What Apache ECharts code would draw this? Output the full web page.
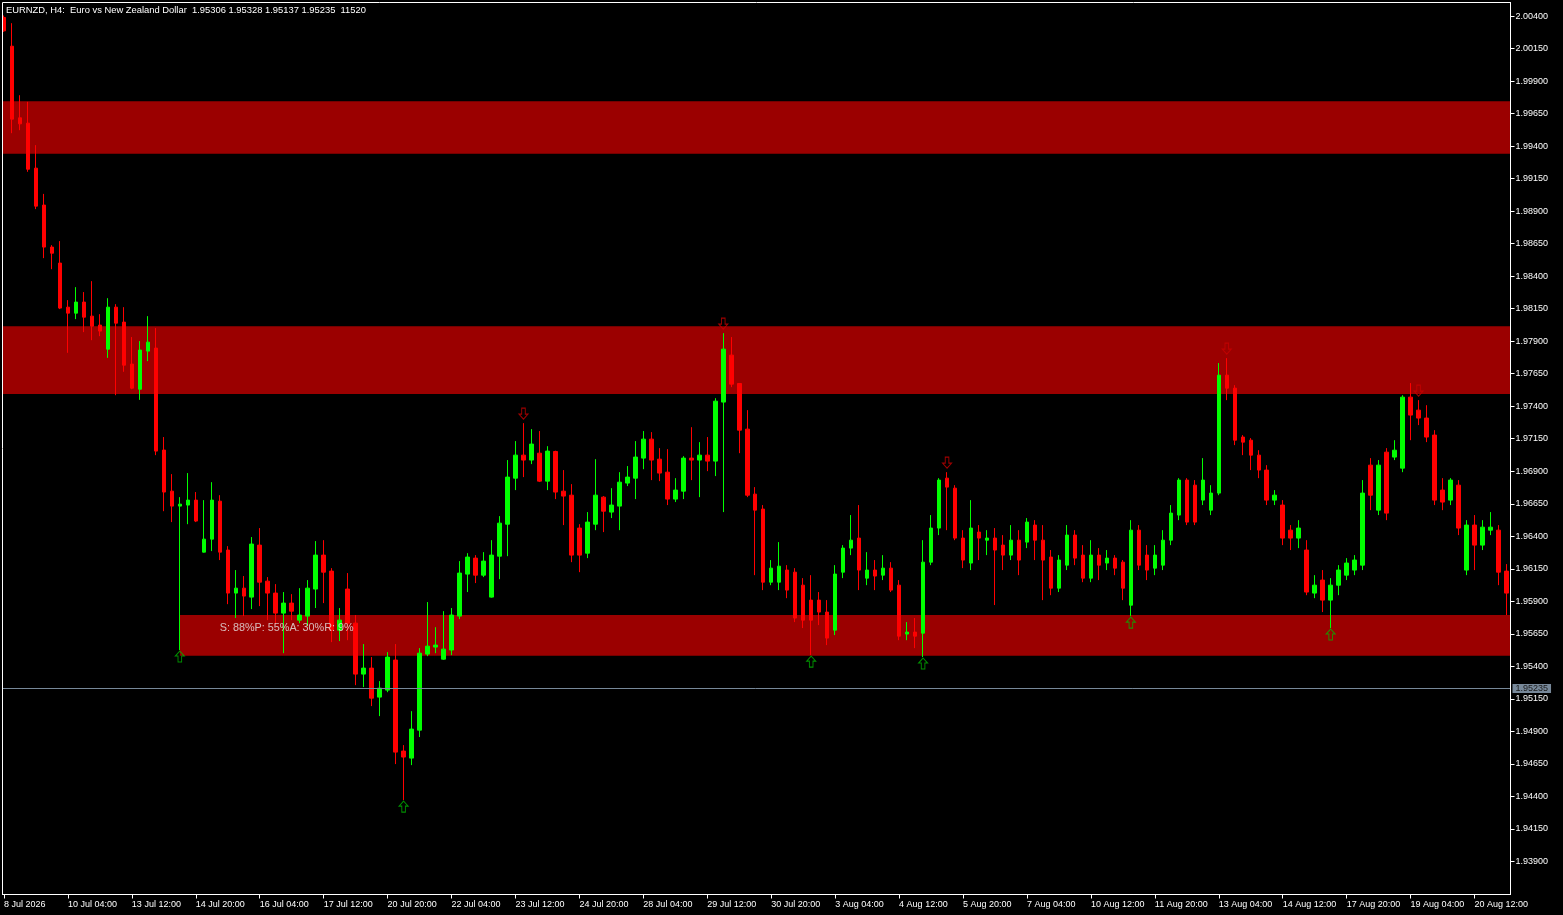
<!DOCTYPE html>
<html>
<head>
<meta charset="utf-8">
<title>EURNZD H4</title>
<script src="https://cdn.jsdelivr.net/npm/echarts@6/dist/echarts.min.js"></script>
<style>
html,body{margin:0;padding:0;background:#000;}
#chart{width:1563px;height:915px;}
</style>
</head>
<body>
<div id="chart"></div>
<script>
// ---------- data ----------
const titleText = 'EURNZD, H4:  Euro vs New Zealand Dollar  1.95306 1.95328 1.95137 1.95235  11520';
const infoText = 'S: 88%P: 55%A: 30%R: 9%';
const lastPrice = 1.95235;

const xTickLabels = ['8 Jul 2026','10 Jul 04:00','13 Jul 12:00','14 Jul 20:00','16 Jul 04:00','17 Jul 12:00',
  '20 Jul 20:00','22 Jul 04:00','23 Jul 12:00','24 Jul 20:00','28 Jul 04:00','29 Jul 12:00','30 Jul 20:00',
  '3 Aug 04:00','4 Aug 12:00','5 Aug 20:00','7 Aug 04:00','10 Aug 12:00','11 Aug 20:00','13 Aug 04:00',
  '14 Aug 12:00','17 Aug 20:00','19 Aug 04:00','20 Aug 12:00'];

const yTickValues = [2.00400,2.00150,1.99900,1.99650,1.99400,1.99150,1.98900,1.98650,1.98400,1.98150,
  1.97900,1.97650,1.97400,1.97150,1.96900,1.96650,1.96400,1.96150,1.95900,1.95650,1.95400,1.95150,
  1.94900,1.94650,1.94400,1.94150,1.93900];

const opens = [
2.00390,2.00169,1.99618,1.99577,1.99231,1.98947,1.98624,1.98501,1.98162,1.98116,
1.98201,1.98093,1.98024,1.97839,1.98162,1.98047,1.97724,1.97531,1.97824,1.97847,
1.97063,1.96747,1.96632,1.96640,1.96678,1.96278,1.96378,1.96670,1.96294,1.95963,
1.96001,1.95932,1.96332,1.96055,1.95963,1.95809,1.95886,1.95755,1.95786,1.95994,
1.96255,1.96132,1.95678,1.95994,1.95732,1.95340,1.95386,1.95163,1.95217,1.95448,
1.94748,1.94694,1.94909,1.95494,1.95548,1.95455,1.95525,1.95786,1.96109,1.96232,
1.96101,1.95932,1.96247,1.96493,1.96847,1.97024,1.96986,1.97039,1.96824,1.97052,
1.96747,1.96716,1.96463,1.96270,1.96493,1.96701,1.96586,1.96632,1.96809,1.96847,
1.97001,1.97147,1.96993,1.96893,1.96686,1.96747,1.97001,1.96986,1.97024,1.96978,
1.97432,1.97793,1.97575,1.97224,1.96724,1.96609,1.96047,1.96047,1.96140,1.96124,
1.96024,1.95909,1.95909,1.95817,1.95678,1.96124,1.96309,1.96386,1.96078,1.96140,
1.96101,1.96155,1.96024,1.95648,1.95663,1.95655,1.96201,1.96463,1.96847,1.96770,
1.96386,1.96194,1.96432,1.96370,1.96386,1.96332,1.96255,1.96370,1.96355,1.96486,
1.96370,1.96240,1.96001,1.96178,1.96409,1.96255,1.96078,1.96255,1.96194,1.96232,
1.96201,1.95870,1.96447,1.96255,1.96155,1.96178,1.96370,1.96563,1.96832,1.96793,
1.96678,1.96601,1.96732,1.97639,1.97539,1.97163,1.97139,1.97024,1.96909,1.96678,
1.96640,1.96447,1.96386,1.96294,1.95963,1.96063,1.95909,1.96024,1.96101,1.96140,
1.96178,1.96947,1.96601,1.97047,1.97009,1.96924,1.97470,1.97370,1.97309,1.97178,
1.96755,1.96678,1.96793,1.96140,1.96486,1.96332,1.96447,1.96447,1.96132];

const highs = [
2.00405,2.00346,1.99792,1.99741,1.99408,1.99033,1.98639,1.98670,1.98216,1.98316,
1.98278,1.98362,1.98108,1.98231,1.98185,1.98162,1.97932,1.97901,1.98093,1.98001,
1.97163,1.96878,1.96701,1.96886,1.96740,1.96678,1.96816,1.96716,1.96324,1.96140,
1.96094,1.96394,1.96463,1.96086,1.96032,1.95971,1.95955,1.96001,1.96063,1.96363,
1.96370,1.96155,1.95848,1.96117,1.95794,1.95571,1.95471,1.95286,1.95509,1.95571,
1.94794,1.95055,1.95540,1.95894,1.95701,1.95824,1.95848,1.96209,1.96270,1.96255,
1.96278,1.96370,1.96555,1.96986,1.97132,1.97270,1.97224,1.97209,1.97093,1.97058,
1.96909,1.96801,1.96493,1.96586,1.96993,1.96709,1.96770,1.96893,1.96940,1.97132,
1.97209,1.97201,1.97078,1.97070,1.96847,1.97016,1.97239,1.97124,1.97163,1.97462,
1.97962,1.97932,1.97578,1.97370,1.96778,1.96640,1.96217,1.96355,1.96178,1.96155,
1.96078,1.96101,1.95971,1.95909,1.96178,1.96332,1.96563,1.96640,1.96278,1.96217,
1.96255,1.96201,1.96063,1.95740,1.95771,1.96370,1.96563,1.96847,1.96893,1.96793,
1.96447,1.96678,1.96486,1.96447,1.96463,1.96409,1.96486,1.96447,1.96540,1.96524,
1.96486,1.96294,1.96255,1.96486,1.96447,1.96332,1.96370,1.96309,1.96294,1.96255,
1.96217,1.96524,1.96486,1.96332,1.96332,1.96447,1.96640,1.96847,1.96847,1.96832,
1.97001,1.96793,1.97732,1.97770,1.97562,1.97178,1.97155,1.97062,1.96947,1.96755,
1.96678,1.96486,1.96524,1.96370,1.96101,1.96140,1.96078,1.96178,1.96232,1.96255,
1.96832,1.97001,1.96986,1.97078,1.97139,1.97485,1.97578,1.97447,1.97408,1.97216,
1.96847,1.96847,1.96832,1.96524,1.96563,1.96524,1.96586,1.96486,1.96186];

const lows = [
2.00280,1.99500,1.99523,1.99203,1.98916,1.98539,1.98454,1.98147,1.97811,1.98070,
1.97970,1.97908,1.97939,1.97772,1.97485,1.97665,1.97531,1.97449,1.97747,1.97024,
1.96593,1.96509,1.95525,1.96493,1.96509,1.96275,1.96286,1.96217,1.95878,1.95771,
1.95786,1.95840,1.95863,1.95755,1.95724,1.95501,1.95755,1.95732,1.95709,1.95848,
1.95886,1.95586,1.95594,1.95601,1.95255,1.95240,1.95094,1.95017,1.95201,1.94648,
1.94371,1.94640,1.94856,1.95478,1.95501,1.95450,1.95486,1.95763,1.95971,1.96040,
1.96086,1.95928,1.96070,1.96247,1.96755,1.96855,1.96955,1.96817,1.96755,1.96686,
1.96486,1.96201,1.96124,1.96232,1.96447,1.96432,1.96540,1.96447,1.96786,1.96686,
1.96916,1.96832,1.96824,1.96640,1.96663,1.96686,1.96832,1.96701,1.96901,1.96863,
1.96586,1.97547,1.97039,1.96701,1.96101,1.95986,1.96024,1.95986,1.95924,1.95740,
1.95694,1.95486,1.95717,1.95563,1.95640,1.96078,1.96255,1.95986,1.96024,1.95986,
1.96063,1.95971,1.95601,1.95601,1.95540,1.95471,1.96178,1.96409,1.96447,1.96370,
1.96155,1.96140,1.96217,1.96255,1.95871,1.96140,1.96217,1.96101,1.96309,1.96217,
1.95909,1.95947,1.95971,1.96140,1.96178,1.96047,1.96047,1.96063,1.96140,1.96101,
1.95909,1.95786,1.96140,1.96063,1.96101,1.96140,1.96332,1.96524,1.96486,1.96486,
1.96640,1.96563,1.96716,1.97447,1.97101,1.97024,1.96909,1.96847,1.96640,1.96640,
1.96332,1.96294,1.96309,1.95947,1.95924,1.95817,1.95694,1.95947,1.96063,1.96101,
1.96140,1.96601,1.96563,1.96524,1.96986,1.96893,1.97139,1.97255,1.97124,1.96640,
1.96601,1.96640,1.96409,1.96101,1.96140,1.96294,1.96409,1.96024,1.95794];

const closes = [
2.00287,1.99608,1.99572,1.99223,1.98939,1.98624,1.98577,1.98155,1.98116,1.98201,
1.98085,1.98016,1.97978,1.98162,1.98039,1.97716,1.97539,1.97832,1.97893,1.97055,
1.96740,1.96632,1.96647,1.96678,1.96517,1.96378,1.96678,1.96278,1.95963,1.96001,
1.95940,1.96340,1.96047,1.95963,1.95809,1.95886,1.95824,1.95794,1.96001,1.96255,
1.96124,1.95678,1.95755,1.95732,1.95340,1.95386,1.95155,1.95232,1.95471,1.94740,
1.94702,1.94917,1.95501,1.95555,1.95563,1.95532,1.95794,1.96117,1.96240,1.96101,
1.96209,1.96255,1.96501,1.96855,1.97024,1.96986,1.97109,1.96824,1.97055,1.96740,
1.96709,1.96255,1.96255,1.96509,1.96716,1.96593,1.96640,1.96816,1.96855,1.97009,
1.97147,1.96986,1.96886,1.96686,1.96755,1.97001,1.96986,1.97024,1.96978,1.97439,
1.97839,1.97570,1.97216,1.96716,1.96601,1.96047,1.96155,1.96170,1.95986,1.95771,
1.95755,1.95755,1.95817,1.95617,1.96109,1.96309,1.96370,1.96140,1.96140,1.96094,
1.96155,1.95986,1.95632,1.95663,1.95632,1.96201,1.96463,1.96832,1.96778,1.96386,
1.96217,1.96463,1.96386,1.96386,1.96294,1.96255,1.96370,1.96217,1.96509,1.96370,
1.96217,1.96001,1.96217,1.96409,1.96232,1.96078,1.96255,1.96178,1.96232,1.96155,
1.96001,1.96447,1.96178,1.96140,1.96255,1.96370,1.96578,1.96832,1.96509,1.96509,
1.96832,1.96732,1.97639,1.97539,1.97139,1.97124,1.97024,1.96909,1.96678,1.96716,
1.96386,1.96386,1.96463,1.95971,1.96024,1.95909,1.96024,1.96140,1.96194,1.96217,
1.96732,1.96716,1.96947,1.96578,1.97062,1.97470,1.97332,1.97309,1.97163,1.96678,
1.96663,1.96832,1.96463,1.96486,1.96332,1.96470,1.96470,1.96124,1.95963];

// supply / demand zones: start bar index (0 = from left edge), top, bottom
const zoneStart  = [0, 0, 22];
const zoneTop    = [1.99746, 1.98016, 1.95794];
const zoneBottom = [1.99341, 1.97495, 1.95481];

// fractal arrows (bar indices)
const upFractals   = [22, 50, 101, 115, 141, 166];
const downFractals = [65, 90, 118, 153, 177];

// info label anchor (bar index, price)
const infoAnchor = [27, 1.95694];

// bar times: H4 bars from 8 Jul 2026 20:00, skipping weekends
const categories = [];
(function(){
  let t = Date.UTC(2026, 6, 8, 20);
  while (categories.length < opens.length) {
    const d = new Date(t);
    const wd = d.getUTCDay();
    if (wd !== 0 && wd !== 6) {
      const p = n => String(n).padStart(2, '0');
      categories.push(d.getUTCFullYear() + '.' + p(d.getUTCMonth()+1) + '.' + p(d.getUTCDate()) + ' ' + p(d.getUTCHours()) + ':00');
    }
    t += 4 * 3600 * 1000;
  }
})();

// ---------- chart ----------
const FONT = '"Liberation Sans", Arial, sans-serif';
const chart = echarts.init(document.getElementById('chart'), null, {renderer: 'canvas'});

const candleData = opens.map((o, i) => [o, closes[i], lows[i], highs[i]]);
const zoneData = zoneStart.map((s, i) => [s, zoneTop[i], zoneBottom[i]]);

const option = {
  backgroundColor: '#000000',
  animation: false,
  title: {
    text: titleText, left: 6, top: 5.5, padding: 0,
    textStyle: {color: '#ffffff', fontSize: 9.4, fontWeight: 'normal', fontFamily: FONT}
  },
  grid: {left: -1.5, top: 2.5, width: 1512, height: 892, containLabel: false},
  xAxis: {
    type: 'category', data: categories, boundaryGap: true,
    axisLine: {show: true, lineStyle: {color: '#ffffff', width: 1}},
    axisTick: {show: true, alignWithLabel: true, interval: 7, length: 4, lineStyle: {color: '#ffffff'}},
    axisLabel: {
      show: true, interval: 7, align: 'left', margin: 6, color: '#ffffff', fontSize: 9, fontFamily: FONT,
      formatter: function (v, idx) { return idx % 8 === 0 ? (xTickLabels[idx / 8] || '') : ''; }
    },
    splitLine: {show: false}
  },
  yAxis: {
    type: 'value', position: 'right', min: 1.93645, max: 2.00505, scale: true,
    axisLine: {show: true, lineStyle: {color: '#ffffff', width: 1}},
    axisTick: {show: true, length: 4, customValues: yTickValues, lineStyle: {color: '#ffffff'}},
    axisLabel: {
      show: true, customValues: yTickValues, margin: 5, color: '#ffffff', fontSize: 9, fontFamily: FONT,
      formatter: v => v.toFixed(5)
    },
    splitLine: {show: false}
  },
  series: [
    {
      type: 'custom', name: 'zones', z: 1, silent: true, clip: true,
      data: zoneData,
      renderItem: function (params, api) {
        const cs = params.coordSys;
        const s = api.value(0);
        const x0 = s === 0 ? cs.x : api.coord([s, api.value(1)])[0];
        const y0 = api.coord([s, api.value(1)])[1];
        const y1 = api.coord([s, api.value(2)])[1];
        return {
          type: 'rect',
          shape: {x: x0, y: y0, width: cs.x + cs.width - x0, height: y1 - y0},
          style: {fill: '#9b0000'}
        };
      }
    },
    {
      type: 'candlestick', name: 'EURNZD', z: 2, barWidth: 4,
      data: candleData,
      itemStyle: {color: '#00ff00', color0: '#ff0000', borderColor: '#00ff00', borderColor0: '#ff0000', borderWidth: 1}
    },
    {
      type: 'scatter', name: 'upFractals', z: 3, silent: true,
      data: upFractals.map(i => [i, lows[i]]),
      symbol: 'path://M5,0 L10,5 L7,5 L7,11 L3,11 L3,5 L0,5 Z',
      symbolSize: [9, 11], symbolOffset: [0, 6.5],
      itemStyle: {color: 'rgba(0,0,0,0)', borderColor: '#00b400', borderWidth: 1}
    },
    {
      type: 'scatter', name: 'downFractals', z: 3, silent: true,
      data: downFractals.map(i => [i, highs[i]]),
      symbol: 'path://M3,0 L7,0 L7,6 L10,6 L5,11 L0,6 L3,6 Z',
      symbolSize: [9, 11], symbolOffset: [0, -9.5],
      itemStyle: {color: 'rgba(0,0,0,0)', borderColor: '#c80000', borderWidth: 1}
    },
    {
      type: 'scatter', name: 'info', z: 4, silent: true,
      data: [infoAnchor], symbolSize: 0,
      label: {show: true, position: 'right', distance: 0, formatter: infoText,
        color: '#e6e6e6', fontSize: 10.8, fontFamily: FONT}
    },
    {
      type: 'custom', name: 'priceLine', z: 5, silent: true, clip: false,
      data: [[0, lastPrice]],
      renderItem: function (params, api) {
        const cs = params.coordSys;
        const y = Math.round(api.coord([0, api.value(1)])[1]) + 0.5;
        return {
          type: 'group',
          children: [
            {type: 'line', shape: {x1: cs.x, y1: y, x2: cs.x + cs.width, y2: y},
              style: {stroke: '#778899', lineWidth: 1}},
            {type: 'text', x: cs.x + cs.width + 2, y: y,
              style: {text: api.value(1).toFixed(5), fill: '#1a1a1a', backgroundColor: '#778899',
                padding: [0, 3], font: '9px "Liberation Sans", Arial, sans-serif',
                align: 'left', verticalAlign: 'middle', lineHeight: 9}}
          ]
        };
      }
    }
  ],
  graphic: [
    {type: 'rect', z: 100, silent: true, shape: {x: 0, y: 0, width: 2, height: 915}, style: {fill: '#000000'}},
    {type: 'rect', z: 101, silent: true, shape: {x: 2.5, y: 2.5, width: 1508, height: 892},
      style: {fill: 'none', stroke: '#ffffff', lineWidth: 1}}
  ]
};
chart.setOption(option);
</script>
</body>
</html>
